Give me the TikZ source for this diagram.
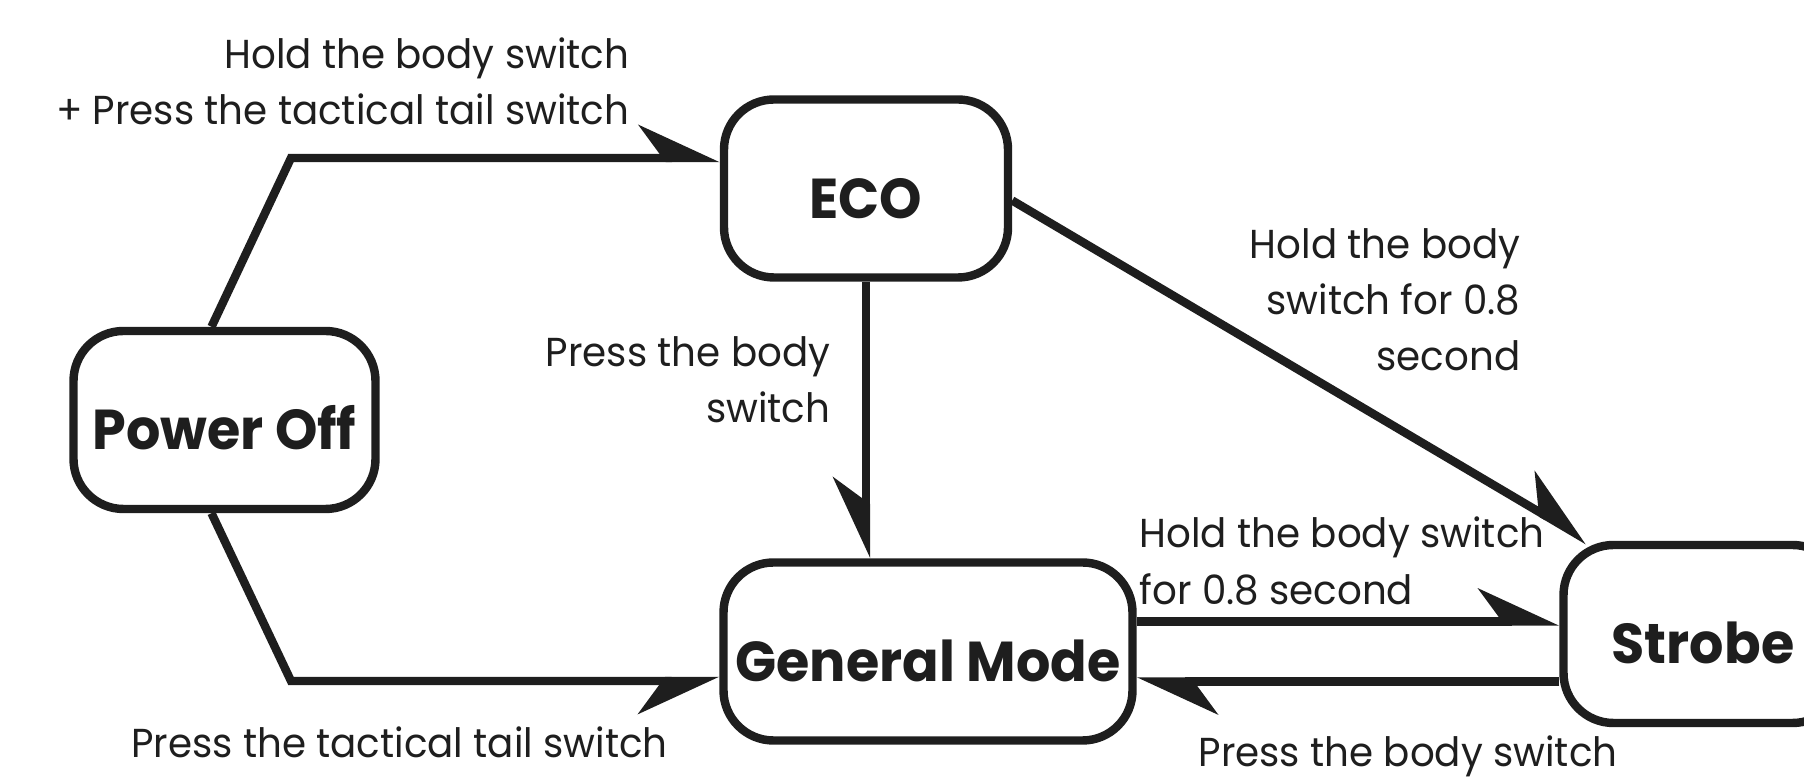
\documentclass[tikz,border=0pt]{standalone}
\usepackage{fontspec}
\setmainfont{Poppins}[FakeStretch=0.96]
\usepackage{tikz}
\usetikzlibrary{arrows.meta, calc, positioning}

\definecolor{ink}{HTML}{1E1E1E}
\tikzset{
  mode/.style={draw=ink, line width=2.4pt, rounded corners=0.5cm, minimum height=1.78cm,
    text height=0.6cm, text depth=0pt,
    font=\fontsize{16}{18}\selectfont\bfseries, text=ink},
  note/.style={inner sep=0pt, text=ink, font=\fontsize{11.5}{16}\selectfont},
  harp/.style={draw=ink, line width=2.4pt,
    -{Stealth[harpoon, length=0.72cm, width=0.66cm, inset=0.24cm]}},
  harp swap/.style={draw=ink, line width=2.4pt,
    -{Stealth[harpoon, swap, length=0.72cm, width=0.66cm, inset=0.24cm]}},
}

\begin{document}
\begin{tikzpicture}
                        \useasboundingbox (0, 0) rectangle (18.04, 7.77);
                        \clip (0, 0) rectangle (18.04, 7.77);
                        % modes
                        \node[mode, minimum width=3.02cm] (off) at (2.245, 3.57) {Power Off};
                        \node[mode, minimum width=2.84cm] (eco) at (8.66, 5.885) {ECO};
                        \node[mode, minimum width=4.09cm] (gm) at (9.28, 1.255) {General Mode};
                        \node[mode, minimum width=2.79cm] (strobe) at (17.03, 1.43) {Strobe};
                        % bends
                        \coordinate (k1) at (2.91, 6.19);
                        \coordinate (k2) at (2.91, 0.96);
                        \draw[harp] ([xshift=-0.13cm]off.north) -- (k1) -- (k1 -| eco.west);
                        \draw[harp swap] ([xshift=-0.13cm]off.south) -- (k2) -- (k2 -| gm.west);
                        \draw
                        (eco.south) edge[harp swap] (eco.south |- gm.north)
                        ([yshift=-0.12cm]eco.east) edge[harp] (strobe.141)
                        ([yshift=0.3cm]gm.east) edge[harp] ([yshift=0.3cm]gm.east -| strobe.west)
                        ([yshift=-0.3cm]gm.east -| strobe.west) edge[harp] ([yshift=-0.3cm]gm.east);
                        % labels
                        \node[note, anchor=east, align=right] (t1) at (6.30, 6.955) {Hold the body switch\\+ Press the tactical tail switch};
                        \node[note, anchor=east, align=right] (t2) at (8.31, 3.975) {Press the body\\switch};
                        \node[note, anchor=east, align=right] (t3) at (15.21, 4.77) {Hold the body\\switch for 0.8\\second};
                        \node[note, anchor=west, align=left] (t4) at (11.39, 2.16) {Hold the body switch\\for 0.8 second};
                        \node[note] (t5) at (3.995, 0.35) {Press the tactical tail switch};
                        \node[note] (t6) at (14.08, 0.21) {Press the body switch};
                    \end{tikzpicture}
\end{document}
